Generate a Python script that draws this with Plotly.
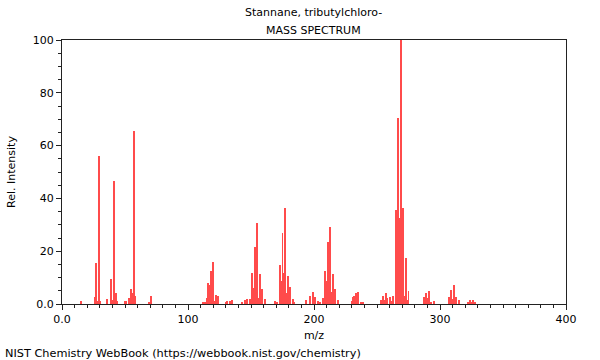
import plotly.graph_objects as go

title_line1 = "Stannane, tributylchloro-"
title_line2 = "MASS SPECTRUM"
x_title = "m/z"
y_title = "Rel. Intensity"
footer = "NIST Chemistry WebBook (https://webbook.nist.gov/chemistry)"

mz = [15, 26, 27, 28, 29, 30, 36, 39, 40, 41, 42, 43, 44, 50, 51, 53, 54, 55, 56, 57, 58,
      69, 71,
      112, 113, 114, 115, 116, 117, 118, 119, 120, 121, 122, 124,
      130, 131, 133, 135,
      143, 145, 146, 147, 149,
      150, 151, 152, 153, 154, 155, 156, 157, 159, 161,
      169, 171,
      173, 174, 175, 176, 177, 178, 179, 181, 183, 184,
      194, 197, 199, 201, 203, 205, 207,
      209, 210, 211, 212, 213, 214, 215, 217, 219,
      230, 231, 232, 233, 234, 235, 237, 239,
      253, 255, 256, 257, 258, 260, 261, 263,
      265, 266, 267, 268, 269, 270, 271, 272, 273, 274, 275,
      287, 288, 289, 290, 291, 293, 295,
      307, 308, 309, 310, 311, 312, 313, 315,
      322, 324, 325, 326, 328]
intensity = [1.2, 2.8, 15.6, 1.0, 56.0, 1.2, 1.8, 9.5, 1.5, 46.5, 3.2, 4.2, 1.2, 1.0, 1.0, 2.2, 1.0, 5.8, 4.0, 65.5, 3.2,
             0.8, 3.0,
             0.5, 0.6, 0.6, 2.1, 7.8, 7.3, 12.6, 8.3, 15.8, 1.1, 3.4, 3.0,
             0.6, 1.0, 1.2, 1.4,
             0.9, 1.5, 0.8, 2.0, 1.8,
             0.8, 11.6, 6.2, 21.5, 8.2, 30.5, 2.4, 11.4, 5.8, 1.8,
             1.2, 0.8,
             14.8, 8.8, 26.9, 11.6, 36.5, 4.0, 10.6, 6.6, 1.8, 0.8,
             1.5, 3.0, 4.4, 2.6, 1.1, 0.7, 2.2,
             12.6, 8.7, 23.6, 7.8, 29.3, 4.7, 11.4, 5.6, 1.5,
             1.0, 2.8, 3.0, 4.3, 3.9, 4.7, 0.6, 0.5,
             1.5, 3.0, 1.7, 4.0, 2.2, 2.8, 1.2, 3.0,
             35.6, 22.3, 70.5, 32.4, 100.0, 15.5, 36.5, 3.0, 17.5, 1.5, 5.0,
             2.5, 1.8, 4.0, 2.2, 4.9, 0.9, 1.0,
             2.5, 1.9, 5.3, 1.9, 7.2, 0.6, 2.8, 1.5,
             0.8, 1.5, 0.8, 1.5, 0.5]

x_tickvals = [0, 100, 200, 300, 400]
x_ticktext = ["0.0", "100", "200", "300", "400"]
y_tickvals = [0, 20, 40, 60, 80, 100]
y_ticktext = ["0.0", "20", "40", "60", "80", "100"]

FONT = "DejaVu Sans"
W, H = 600, 360
ML, MR, MT, MB = 62, 34, 40, 56
pw, ph = W - ML - MR, H - MT - MB


def px_x(x):
    return (x - ML) / pw


def px_y(y):
    return (H - MB - y) / ph


fig = go.Figure()
fig.add_trace(go.Bar(x=mz, y=intensity, width=0.75,
                     marker=dict(color="rgb(255,75,75)", line=dict(width=0)),
                     hoverinfo="x+y"))

axis_common = dict(showline=True, linecolor="#222", linewidth=1, mirror=True,
                   ticks="outside", ticklen=5, tickcolor="#222", showgrid=False,
                   zeroline=False, tickfont=dict(family=FONT, size=11, color="black"))

fig.update_xaxes(range=[0, 400], tickvals=x_tickvals, ticktext=x_ticktext,
                 minor=dict(dtick=10, ticks="outside", ticklen=3, tickcolor="#222", showgrid=False),
                 title=dict(text=x_title, font=dict(family=FONT, size=11, color="black"), standoff=6),
                 **axis_common)
fig.update_yaxes(range=[0, 100], tickvals=y_tickvals, ticktext=y_ticktext,
                 minor=dict(dtick=5, ticks="outside", ticklen=3, tickcolor="#222", showgrid=False),
                 title=dict(text=y_title, font=dict(family=FONT, size=11, color="black"), standoff=14),
                 **axis_common)

fig.update_layout(
    width=W, height=H,
    margin=dict(l=ML, r=MR, t=MT, b=MB),
    paper_bgcolor="white", plot_bgcolor="white",
    showlegend=False, bargap=0,
    font=dict(family=FONT, size=11, color="black"),
    annotations=[
        dict(text=title_line1, x=px_x(313), y=px_y(13), xref="paper", yref="paper",
             showarrow=False, yanchor="middle", font=dict(family=FONT, size=11, color="black")),
        dict(text=title_line2, x=px_x(313), y=px_y(30), xref="paper", yref="paper",
             showarrow=False, yanchor="middle", font=dict(family=FONT, size=11, color="black")),
        dict(text=footer, x=px_x(3), y=px_y(353), xref="paper", yref="paper",
             showarrow=False, xanchor="left", yanchor="middle",
             font=dict(family=FONT, size=11.3, color="black")),
    ],
)

fig.write_html("out.html", config={"displayModeBar": False},
               post_script="document.body.style.margin='0';")
